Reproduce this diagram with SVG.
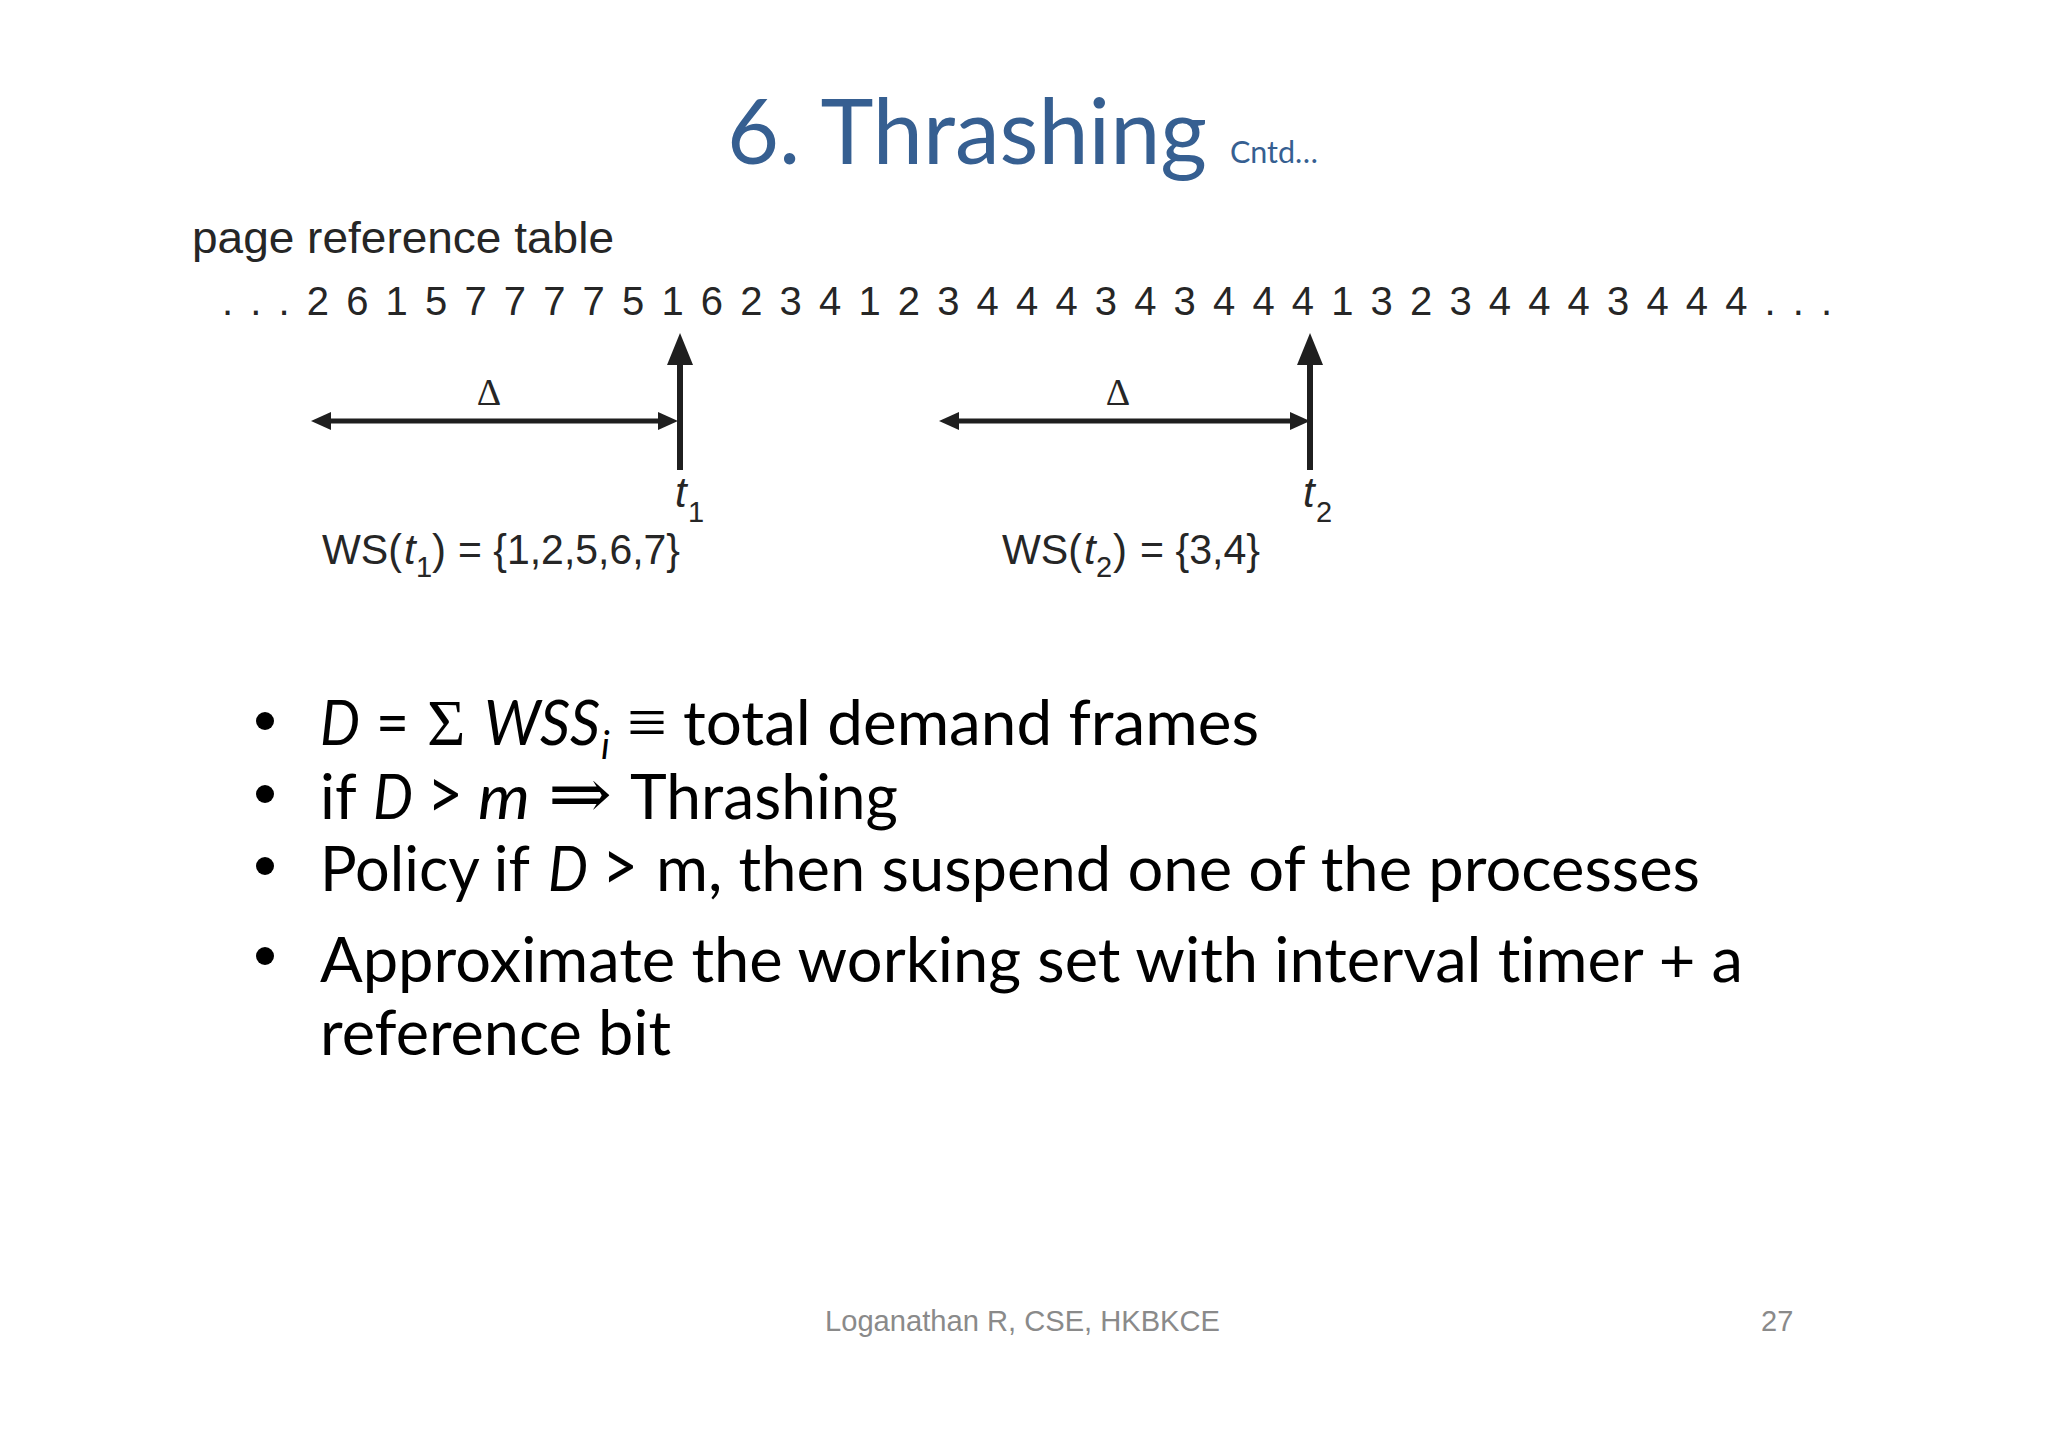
<svg xmlns="http://www.w3.org/2000/svg" width="2048" height="1447" viewBox="0 0 2048 1447">
<style>
.title{font-family:"Lato","Open Sans",sans-serif;fill:#365f91;font-variant-ligatures:none}
.fig{font-family:"Liberation Sans",Arial,sans-serif;fill:#262626;font-size:42px}
.figi{font-style:italic}
.delta{font-family:"Liberation Serif",serif;font-size:38px;fill:#262626;text-anchor:middle}
.sub{font-size:29px}
.body{font-family:"Lato","Open Sans",sans-serif;font-size:62px;fill:#000;font-variant-ligatures:none}
.i{font-style:italic}
.sym{font-family:"Liberation Serif","DejaVu Serif",serif}
.foot{font-family:"Liberation Sans",Arial,sans-serif;font-size:29px;fill:#8a8a8a}
.v{stroke:#1f1f1f;stroke-width:6;fill:none}
.h{stroke:#1f1f1f;stroke-width:5;fill:none}
</style>
<defs>
<marker id="vh" markerUnits="userSpaceOnUse" markerWidth="32" markerHeight="26" refX="0" refY="13" orient="auto" overflow="visible"><path d="M0,0L32,13L0,26Z" fill="#1f1f1f"/></marker>
<marker id="hh" markerUnits="userSpaceOnUse" markerWidth="20" markerHeight="18" refX="0" refY="9" orient="auto-start-reverse" overflow="visible"><path d="M0,0L20,9L0,18Z" fill="#1f1f1f"/></marker>
</defs>
<rect width="2048" height="1447" fill="#fff"/>
<g id="title">
<text class="title" x="727" y="164" font-size="92" textLength="480" lengthAdjust="spacingAndGlyphs">6. Thrashing</text>
<text class="title" x="1230" y="163" font-size="31" textLength="88" lengthAdjust="spacingAndGlyphs">Cntd…</text>
</g>
<g id="figure-labels">
<text class="fig" x="192" y="253" style="font-size:45px" textLength="422" lengthAdjust="spacingAndGlyphs">page reference table</text>
<text class="fig" x="222" y="315" style="font-size:40px;letter-spacing:3.02px">. . . 2 6 1 5 7 7 7 7 5 1 6 2 3 4 1 2 3 4 4 4 3 4 3 4 4 4 1 3 2 3 4 4 4 3 4 4 4 . . .</text>
<text class="delta" x="489" y="405">Δ</text>
<text class="delta" x="1118" y="405">Δ</text>
<g id="t1-label"><text class="fig figi" x="675" y="507">t</text><text class="fig sub" x="688" y="522">1</text></g>
<g id="t2-label"><text class="fig figi" x="1303" y="507">t</text><text class="fig sub" x="1316" y="522">2</text></g>
<g id="ws1"><text class="fig" x="322" y="564" textLength="80" lengthAdjust="spacingAndGlyphs">WS(</text><text class="fig figi" x="404" y="564">t</text><text class="fig sub" x="416" y="577">1</text><text class="fig" x="432" y="564">)</text><text class="fig" x="458" y="564" textLength="222" lengthAdjust="spacingAndGlyphs">= {1,2,5,6,7}</text></g>
<g id="ws2"><text class="fig" x="1002" y="564" textLength="80" lengthAdjust="spacingAndGlyphs">WS(</text><text class="fig figi" x="1084" y="564">t</text><text class="fig sub" x="1096" y="577">2</text><text class="fig" x="1113" y="564">)</text><text class="fig" x="1140" y="564" textLength="120" lengthAdjust="spacingAndGlyphs">= {3,4}</text></g>
</g>
<g id="connectors">
<path class="v" d="M680,470V365" marker-end="url(#vh)"/>
<path class="v" d="M1310,470V365" marker-end="url(#vh)"/>
<path class="h" d="M331,421H658" marker-start="url(#hh)" marker-end="url(#hh)"/>
<path class="h" d="M959,421H1290" marker-start="url(#hh)" marker-end="url(#hh)"/>
</g>
<g id="bullets" fill="#000">
<circle cx="265" cy="721" r="9"/>
<circle cx="265" cy="794" r="9"/>
<circle cx="265" cy="866" r="9"/>
<circle cx="265" cy="956" r="9"/>
</g>
<g id="line1">
<text class="body i" x="320" y="745" textLength="40" lengthAdjust="spacingAndGlyphs">D</text>
<text class="body" x="376" y="745" textLength="33" lengthAdjust="spacingAndGlyphs">=</text>
<text class="body sym" x="427" y="745" style="font-size:66px">Σ</text>
<text class="body i" x="484" y="745" textLength="116" lengthAdjust="spacingAndGlyphs">WSS</text>
<text class="body i" x="601" y="759" style="font-size:38px">i</text>
<text class="body sym" x="627" y="745" style="font-size:68px" textLength="40" lengthAdjust="spacingAndGlyphs">≡</text>
<text class="body" x="683" y="745" textLength="576" lengthAdjust="spacingAndGlyphs">total demand frames</text>
</g>
<g id="line2">
<text class="body" x="320" y="819">if</text>
<text class="body i" x="373" y="819" textLength="40" lengthAdjust="spacingAndGlyphs">D</text>
<text class="body" x="427" y="819" style="font-size:72px" textLength="36" lengthAdjust="spacingAndGlyphs">&gt;</text>
<text class="body i" x="478" y="819" textLength="52" lengthAdjust="spacingAndGlyphs">m</text>
<text class="body sym" x="548" y="818" style="font-size:70px" textLength="64" lengthAdjust="spacingAndGlyphs">⇒</text>
<text class="body" x="630" y="819" textLength="268" lengthAdjust="spacingAndGlyphs">Thrashing</text>
</g>
<g id="line3">
<text class="body" x="320" y="891" textLength="210" lengthAdjust="spacingAndGlyphs">Policy if</text>
<text class="body i" x="548" y="891" textLength="40" lengthAdjust="spacingAndGlyphs">D</text>
<text class="body" x="602" y="891" style="font-size:72px" textLength="36" lengthAdjust="spacingAndGlyphs">&gt;</text>
<text class="body" x="656" y="891" textLength="1044" lengthAdjust="spacingAndGlyphs">m, then suspend one of the processes</text>
</g>
<g id="line4">
<text class="body" x="320" y="982" textLength="1423" lengthAdjust="spacingAndGlyphs">Approximate the working set with interval timer + a</text>
<text class="body" x="320" y="1055" textLength="351" lengthAdjust="spacingAndGlyphs">reference bit</text>
</g>
<g id="footer">
<text class="foot" x="825" y="1331" textLength="395" lengthAdjust="spacingAndGlyphs">Loganathan R, CSE, HKBKCE</text>
<text class="foot" x="1761" y="1331">27</text>
</g>
</svg>
